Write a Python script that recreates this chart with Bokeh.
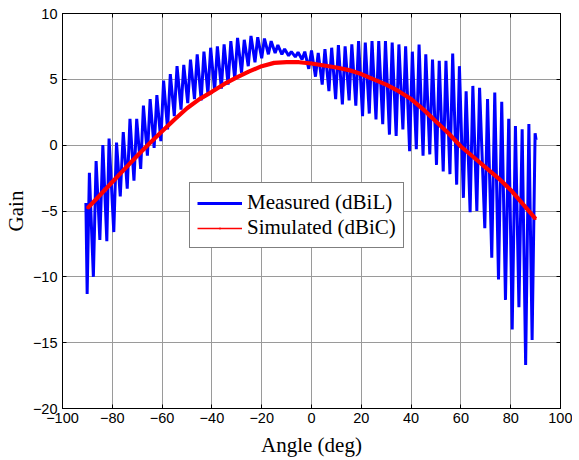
from bokeh.plotting import figure
from bokeh.models import Range1d, FixedTicker, LinearAxis, Legend, LegendItem, ColumnDataSource
from bokeh.embed import file_html
from bokeh.resources import INLINE

# Measured (dBiL): extrema of the oscillating pattern
meas_angle = [-90.6, -90.1, -89.2, -87.6, -86.5, -85.0, -83.8, -82.2, -81.3, -79.4,
              -78.3, -76.8, -75.6, -74.0, -72.9, -71.3, -70.2, -68.6, -67.5, -65.9,
              -64.8, -63.2, -62.1, -60.5, -59.4, -57.8, -56.7, -55.1, -54.0, -52.4,
              -51.3, -49.7, -48.6, -47.0, -45.9, -44.3, -43.2, -41.6, -40.5, -38.9,
              -37.8, -36.2, -35.1, -33.5, -32.4, -30.8, -29.7, -28.1, -27.0, -25.4,
              -24.3, -22.7, -21.6, -20.0, -18.9, -17.3, -16.2, -14.6, -13.5, -11.9,
              -10.8, -9.2, -8.1, -6.5, -5.4, -3.8, -2.7, -1.1, 0.0, 1.6,
              2.7, 4.3, 5.4, 7.0, 8.1, 9.7, 10.8, 12.4, 13.5, 15.1,
              16.2, 17.8, 18.9, 20.5, 21.6, 23.2, 24.3, 25.9, 27.0, 28.6,
              29.7, 31.3, 32.4, 34.0, 35.1, 36.7, 37.8, 39.4, 40.5, 42.1,
              43.2, 44.8, 45.9, 47.5, 48.6, 50.2, 51.3, 52.9, 54.0, 55.6,
              56.7, 58.3, 59.4, 61.0, 62.1, 63.7, 64.8, 66.4, 67.5, 69.6,
              70.7, 72.4, 73.6, 75.1, 76.4, 77.9, 79.2, 80.6, 81.9, 83.3,
              84.6, 86.0, 87.3, 88.6, 89.8, 90.2]
meas_gain = [-4.4, -11.3, -2.1, -10.0, -1.2, -7.2, 0.0, -7.3, 0.5, -6.6,
             0.2, -3.9, 1.0, -3.3, 2.0, -2.7, 2.0, -1.8, 3.0, -0.8,
             3.5, -0.2, 3.8, 0.3, 4.9, 1.2, 5.4, 2.2, 6.0, 2.7,
             6.1, 3.2, 6.5, 3.5, 6.9, 3.4, 7.1, 3.9, 7.4, 4.1,
             7.5, 4.3, 7.65, 4.6, 7.9, 5.0, 8.15, 5.5, 8.0, 6.0,
             8.3, 6.3, 8.2, 6.6, 8.1, 6.9, 7.9, 7.0, 7.6, 6.9,
             7.3, 6.8, 7.1, 6.7, 7.05, 6.5, 7.1, 5.8, 7.2, 5.2,
             7.0, 4.6, 7.3, 4.1, 7.4, 3.5, 7.6, 3.1, 7.5, 3.4,
             7.65, 3.0, 7.9, 2.2, 7.8, 2.4, 7.9, 1.95, 7.9, 1.6,
             7.9, 0.8, 7.8, 0.7, 7.65, 1.2, 7.5, -0.45, 7.1, -0.3,
             7.65, -0.8, 6.9, -0.7, 6.5, -1.5, 6.4, -2.0, 6.4, -2.2,
             6.96, -3.0, 6.0, -4.0, 4.1, -5.1, 4.5, -5.0, 4.35, -6.3,
             3.5, -8.55, 4.0, -10.2, 3.3, -11.75, 2.0, -14.0, 1.45, -12.3,
             1.2, -16.7, 1.6, -14.8, 0.9, 0.4]

# Simulated (dBiC)
sim_angle = [-90, -85, -80, -75, -70, -65, -60, -55, -50, -45, -40, -35, -30, -25,
             -20, -15, -10, -5, 0, 5, 10, 15, 20, 25, 30, 35, 40, 45, 50, 55,
             60, 65, 70, 75, 80, 85, 90]
sim_gain = [-4.8, -3.8, -2.8, -1.8, -0.8, 0.15, 1.05, 1.95, 2.8, 3.5, 4.05, 4.65, 5.15, 5.6,
            6.0, 6.25, 6.3, 6.3, 6.2, 6.05, 5.9, 5.7, 5.4, 5.0, 4.6, 4.1, 3.5, 2.7, 1.8, 0.9,
            -0.1, -0.9, -1.7, -2.5, -3.4, -4.5, -5.6]

x_ticks = [-100, -80, -60, -40, -20, 0, 20, 40, 60, 80, 100]
y_ticks = [-20, -15, -10, -5, 0, 5, 10]

p = figure(frame_width=498, frame_height=395, output_backend="svg", toolbar_location=None,
           x_range=Range1d(-100, 100), y_range=Range1d(-20, 10),
           min_border_left=53, min_border_right=12, min_border_top=13, min_border_bottom=45,
           background_fill_color="white", border_fill_color="white")

p.outline_line_color = "black"
p.outline_line_width = 1

for ax, tk in ((p.xaxis[0], x_ticks), (p.yaxis[0], y_ticks)):
    ax.ticker = FixedTicker(ticks=tk)
    ax.major_tick_in = 4
    ax.major_tick_out = 0
    ax.minor_tick_line_color = None
    ax.axis_line_color = "black"
    ax.major_tick_line_color = "black"
    ax.major_label_text_font = "Liberation Sans"
    ax.major_label_text_font_size = "14.5px"
    ax.major_label_text_color = "black"
    ax.axis_label_text_font = "Liberation Serif"
    ax.axis_label_text_font_size = "21px"
    ax.axis_label_text_font_style = "normal"
    ax.axis_label_text_color = "black"

p.xaxis.axis_label = "Angle (deg)"
p.yaxis.axis_label = "Gain"
p.xaxis.major_label_standoff = 4
p.yaxis.major_label_standoff = 5
p.xaxis.axis_label_standoff = 7
p.yaxis.axis_label_standoff = 2

# mirrored ticks on top and right
for side, tk in (("above", x_ticks), ("right", y_ticks)):
    ax = LinearAxis(ticker=FixedTicker(ticks=tk), major_tick_in=4, major_tick_out=0,
                    minor_tick_line_color=None, axis_line_color="black",
                    major_label_text_font_size="1px", major_label_text_alpha=0,
                    major_label_standoff=0)
    p.add_layout(ax, side)

p.xgrid.ticker = FixedTicker(ticks=x_ticks)
p.ygrid.ticker = FixedTicker(ticks=y_ticks)
p.grid.grid_line_color = "#9a9a9a"
p.grid.grid_line_width = 1

meas_src = ColumnDataSource(dict(x=meas_angle, y=meas_gain))
sim_src = ColumnDataSource(dict(x=sim_angle, y=sim_gain))

blue_r = p.line("x", "y", source=meas_src, line_color="#0000ff", line_width=3)

# thin line + dots (legend sample), covered by the thick simulated curve
red_leg_line = p.line("x", "y", source=sim_src, line_color="#ff0000", line_width=1.5)
red_leg_dot = p.scatter("x", "y", source=sim_src, marker="dot", size=8,
                        fill_color="#ff0000", line_color="#ff0000")
p.line("x", "y", source=sim_src, line_color="#ff0000", line_width=4.2)

legend = Legend(items=[LegendItem(label="Measured (dBiL)", renderers=[blue_r]),
                       LegendItem(label="Simulated (dBiC)", renderers=[red_leg_line, red_leg_dot])],
                location=(127, 160))
legend.label_text_font = "Liberation Serif"
legend.label_text_font_size = "21px"
legend.label_text_color = "black"
legend.label_text_line_height = 0.9
legend.border_line_color = "black"
legend.border_line_width = 1
legend.background_fill_color = "white"
legend.background_fill_alpha = 1
legend.glyph_width = 45
legend.glyph_height = 18
legend.label_height = 18
legend.label_standoff = 5
legend.padding = 7
legend.spacing = 0
legend.margin = 0
p.add_layout(legend)

open("out.html", "w").write(file_html(p, INLINE))
